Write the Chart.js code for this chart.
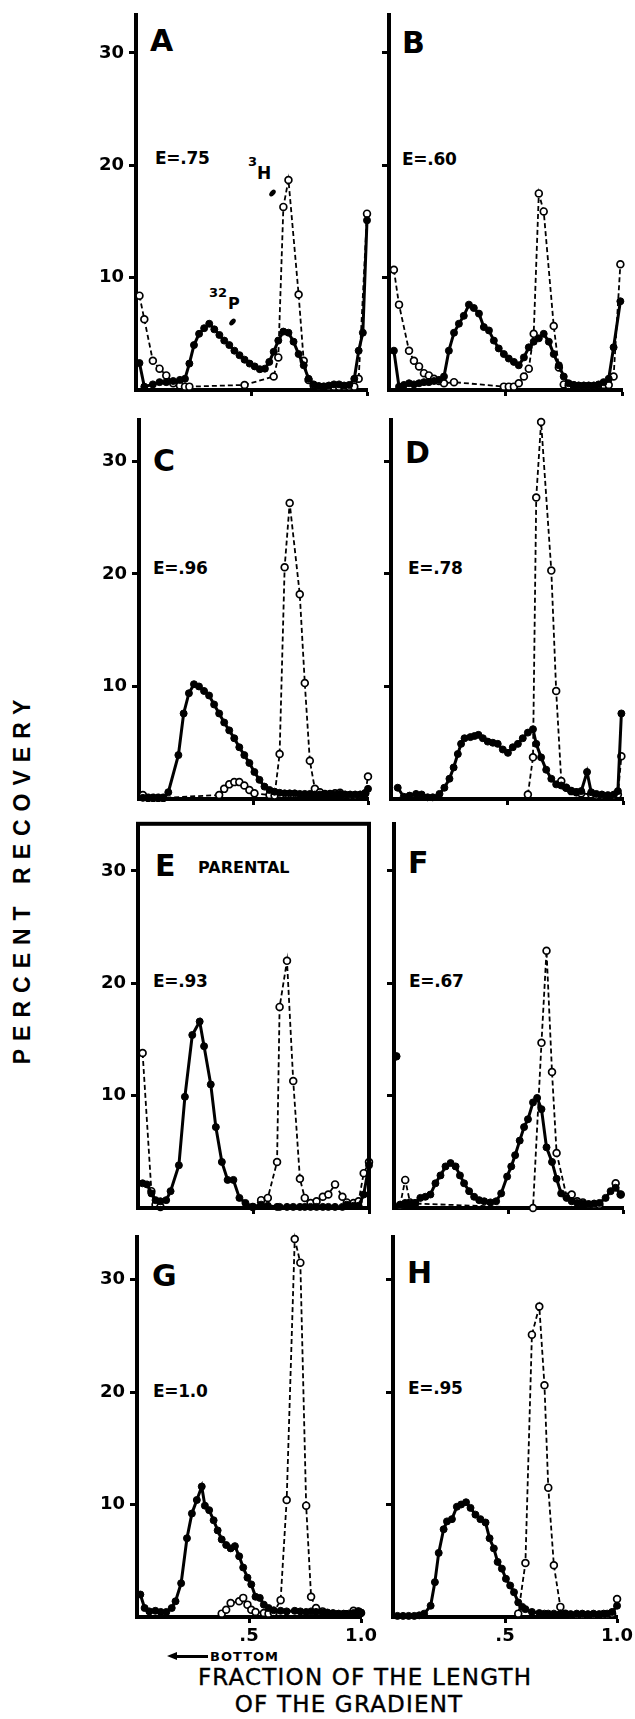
<!DOCTYPE html>
<html>
<head>
<meta charset="utf-8">
<script src="https://cdn.jsdelivr.net/npm/chart.js@4.4.1/dist/chart.umd.min.js"></script>
<style>
  html, body { margin: 0; padding: 0; background: #fff; }
  #fig { position: relative; width: 635px; height: 1719px; overflow: hidden; color: #000;
         font-family: "DejaVu Sans", sans-serif; }
  #fig canvas { position: absolute; }
  .t { position: absolute; white-space: nowrap; line-height: 1; font-weight: bold; }
  .letter { font-size: 30px; }
  .eff { font-size: 17px; letter-spacing: -0.3px; }
  .title { font-family: "DejaVu Sans", sans-serif; font-weight: normal; font-size: 23px; text-align: center; width: 500px; letter-spacing: 1.2px; -webkit-text-stroke: 0.4px #000; }
  .dot { position: absolute; width: 5px; height: 8px; border-radius: 50%; background: #000; }
</style>
</head>
<body>
<div id="fig">
  <div class="t" style="left:22px;top:878px;width:400px;text-align:center;font-family:'Liberation Sans',Arial,sans-serif;font-size:23px;letter-spacing:8px;transform:translate(-50%,-50%) rotate(-90deg);">PERCENT RECOVERY</div>

  <div class="t letter" style="left:150px;top:26px;">A</div>
  <div class="t letter" style="left:402px;top:28px;">B</div>
  <div class="t letter" style="left:153px;top:446px;">C</div>
  <div class="t letter" style="left:405px;top:438px;">D</div>
  <div class="t letter" style="left:155px;top:851px;">E</div>
  <div class="t" style="left:198px;top:860px;font-size:16px;">PARENTAL</div>
  <div class="t letter" style="left:408px;top:848px;">F</div>
  <div class="t letter" style="left:152px;top:1261px;">G</div>
  <div class="t letter" style="left:407px;top:1258px;">H</div>

  <div class="t eff" style="left:155px;top:150px;">E=.75</div>
  <div class="t eff" style="left:402px;top:151px;">E=.60</div>
  <div class="t eff" style="left:153px;top:560px;">E=.96</div>
  <div class="t eff" style="left:408px;top:560px;">E=.78</div>
  <div class="t eff" style="left:153px;top:973px;">E=.93</div>
  <div class="t eff" style="left:409px;top:973px;">E=.67</div>
  <div class="t eff" style="left:153px;top:1383px;">E=1.0</div>
  <div class="t eff" style="left:408px;top:1380px;">E=.95</div>

  <div class="t" style="left:248px;top:155px;font-size:13px;">3</div>
  <div class="t" style="left:257px;top:165px;font-size:17px;">H</div>
  <div class="dot" style="left:270px;top:189px;transform:rotate(40deg);"></div>
  <div class="t" style="left:209px;top:286px;font-size:13px;">32</div>
  <div class="t" style="left:228px;top:296px;font-size:16px;">P</div>
  <div class="dot" style="left:230px;top:318px;transform:rotate(40deg);"></div>

  <div style="position:absolute;left:175px;top:1655px;width:33px;height:3px;background:#000;"></div>
  <div style="position:absolute;left:167px;top:1652px;width:0;height:0;border-top:4.5px solid transparent;border-bottom:4.5px solid transparent;border-right:10px solid #000;"></div>
  <div class="t" style="left:210px;top:1650px;font-size:13px;letter-spacing:1px;">BOTTOM</div>
  <div class="t title" style="left:115px;top:1666px;">FRACTION OF THE LENGTH</div>
  <div class="t title" style="left:99px;top:1693px;">OF THE GRADIENT</div>
</div>

<script>
// fraction positions and % recovery (32P = filled, 3H = open)
const fracA = [.015,.036,.073,.102,.131,.161,.190,.212,.231,.251,.273,.295,.317,.339,.361,.382,.404,.426,.448,.470,.492,.514,.536,.558,.577,.596,.616,.638,.660,.682,.704,.726,.747,.769,.791,.813,.835,.857,.879,.901,.923,.945,.964,.982,1.0];
const p32A = [2.4,.3,.5,.7,.7,.8,.9,1.0,2.35,4.0,5.0,5.5,5.9,5.4,4.9,4.4,4.0,3.5,3.1,2.7,2.35,2.1,1.85,1.9,2.5,3.4,4.4,5.2,5.1,4.3,3.2,2.2,1.0,.5,.35,.3,.4,.5,.5,.4,.45,1.0,3.5,5.1,15.1];
const h3A = [8.4,6.3,2.6,1.9,1.3,.6,.4,.3,.3,null,null,null,null,null,null,null,null,null,null,.45,null,null,null,null,null,1.2,2.9,16.3,18.7,null,8.5,2.6,.9,.4,.3,.3,.3,.3,.3,.3,.3,.3,1.0,null,15.7];

const fracB = [.021,.043,.064,.086,.107,.129,.150,.171,.193,.214,.236,.257,.279,.300,.321,.343,.364,.386,.407,.429,.450,.471,.493,.514,.536,.557,.579,.600,.621,.643,.664,.686,.707,.729,.750,.771,.793,.814,.836,.857,.879,.900,.921,.943,.964,.993];
const p32B = [3.5,.3,.45,.6,.5,.6,.7,.7,.8,.9,1.2,3.5,5.1,5.9,6.6,7.6,7.3,6.8,5.6,5.3,4.4,3.7,3.2,2.8,2.5,2.2,2.9,3.8,4.3,4.6,5.0,4.3,3.2,2.2,1.2,.6,.45,.4,.4,.4,.4,.5,.7,1.0,3.8,7.9];
const h3B = [10.7,7.6,null,3.5,2.6,2.1,1.5,1.3,1.0,.8,.6,null,.7,null,null,null,null,null,null,null,null,null,.3,.3,.3,.6,1.2,1.9,5.0,17.5,15.9,null,5.7,2.0,.5,.4,.4,.35,.35,.35,.35,.4,.45,.45,1.2,11.2];

const fracC = [.017,.04,.062,.084,.106,.128,.15,.172,.195,.218,.24,.262,.284,.306,.328,.35,.372,.394,.416,.438,.46,.482,.504,.526,.548,.57,.592,.614,.636,.658,.68,.702,.724,.746,.768,.79,.812,.834,.856,.878,.90,.922,.944,.966,.988,1.0];
const p32C = [.1,.1,.1,.1,.1,.6,null,3.9,7.6,9.4,10.2,10.0,9.6,9.2,8.4,7.6,6.8,6.1,5.4,4.6,3.9,3.2,2.4,1.7,1.1,.8,.65,.55,.5,.5,.5,.45,.45,.45,.4,.4,.4,.4,.4,.45,.4,.4,.4,.4,.5,.9];
const h3C = [.35,.1,.1,.1,.1,null,null,null,null,null,null,null,null,null,null,.35,.9,1.3,1.5,1.5,1.2,.8,.5,null,null,.35,.3,4.0,20.6,26.3,null,18.2,10.3,3.4,.9,.6,.45,.45,.5,.55,.35,.3,.3,.35,.5,2.0];

const fracD = [.029,.055,.08,.108,.132,.158,.18,.209,.23,.252,.27,.288,.302,.317,.342,.36,.377,.396,.417,.439,.46,.482,.504,.525,.547,.568,.59,.612,.626,.647,.669,.691,.712,.734,.755,.777,.799,.82,.845,.863,.885,.909,.935,.961,.978,.993];
const p32D = [1.0,.2,.3,.45,.4,.15,.15,.45,1.0,1.8,2.8,4.0,4.9,5.4,5.5,5.6,5.7,5.4,5.1,5.0,4.9,4.4,4.1,4.6,4.9,5.4,5.9,6.2,4.9,3.7,2.6,1.8,1.3,1.2,1.0,.7,.6,.7,2.4,.6,.45,.4,.3,.4,.7,7.6];
const h3D = [null,null,null,null,null,null,null,null,null,null,null,null,null,null,null,null,null,null,null,null,null,null,null,null,null,null,.4,3.7,26.8,33.5,null,20.3,9.6,1.6,1.0,.7,.6,.5,null,.4,.3,.3,.3,.3,.4,3.8];

const fracE = [.02,.039,.058,.076,.097,.122,.141,.177,.203,.235,.267,.286,.315,.337,.363,.388,.413,.439,.465,.497,.533,.562,.602,.613,.645,.672,.701,.722,.747,.773,.80,.824,.853,.885,.904,.933,.955,.977,1.0];
const p32E = [2.2,2.1,1.3,.7,.6,.7,1.5,3.8,9.9,15.4,16.6,14.4,11.0,7.2,4.1,2.5,2.5,.9,.45,.1,.3,.2,.1,.1,.1,.1,.1,.1,.1,.1,.1,.1,.1,.1,.3,.2,.2,1.2,3.8];
const h3E = [13.8,null,1.5,.3,.1,null,null,null,null,null,null,null,null,null,null,null,null,null,null,.1,.7,.9,4.1,17.9,22.0,11.3,2.6,.9,.45,.6,1.0,1.2,2.1,1.0,.5,.45,.6,3.1,4.1];

const fracF = [.026,.049,.07,.092,.115,.137,.159,.181,.203,.225,.247,.269,.288,.306,.328,.35,.372,.394,.421,.446,.468,.494,.512,.529,.549,.568,.585,.607,.625,.644,.666,.69,.71,.73,.754,.776,.80,.825,.85,.874,.897,.924,.946,.968,.99];
const p32F = [.3,.45,.4,.45,.9,1.0,1.2,2.2,2.9,3.7,4.0,3.7,2.9,2.2,1.5,1.0,.7,.6,.5,.6,1.3,2.8,3.7,4.7,6.0,7.2,7.9,9.4,9.8,8.8,5.4,4.1,2.6,1.3,.9,.6,.45,.4,.35,.4,.45,.9,1.5,1.8,1.2];
const h3F = [.2,2.5,.5,.4,null,null,null,null,null,null,null,null,null,null,null,null,null,null,null,null,null,null,null,null,null,null,null,0,null,14.7,22.9,12.1,4.9,null,1.0,1.2,.6,.5,.3,.3,.3,null,null,2.2,1.2];
// first 32P fraction of F stands alone on the axis
const fracFLone = [.01];
const p32FLone = [13.5];

const fracG = [.015,.034,.055,.082,.106,.131,.155,.172,.197,.223,.245,.267,.289,.303,.322,.342,.36,.378,.398,.418,.437,.456,.474,.493,.51,.529,.548,.566,.587,.61,.641,.668,.704,.729,.755,.777,.799,.828,.85,.875,.90,.922,.945,.966,.988,1.0];
const p32G = [2.0,.8,.5,.55,.45,.45,.8,1.4,3.0,7.0,9.2,10.4,11.6,9.9,9.5,8.6,7.7,6.9,6.4,6.1,6.3,5.4,4.4,3.5,2.9,1.8,1.7,1.1,.8,.6,.55,.5,.55,.5,.45,.5,.45,.4,.4,.35,.3,.3,.3,.35,.5,.4];
const h3G = [null,null,null,null,null,null,null,null,null,null,null,null,null,null,null,null,null,.3,.65,1.25,null,1.4,1.7,1.1,.65,.45,null,.35,.3,.4,1.5,10.4,33.6,31.5,9.9,1.8,.8,.5,null,null,null,null,null,.55,.5,.35];

const fracH = [.02,.045,.07,.095,.117,.139,.168,.187,.204,.226,.241,.263,.285,.304,.326,.346,.368,.39,.413,.431,.45,.467,.486,.504,.523,.54,.559,.577,.591,.62,.653,.676,.693,.718,.747,.769,.793,.82,.845,.87,.895,.92,.94,.956,.978,1.0];
const p32H = [.1,.1,.1,.1,.15,.3,1.0,3.1,5.7,7.8,8.5,8.7,9.8,10.0,10.2,9.7,9.1,8.7,8.4,7.0,6.1,4.9,4.3,3.4,2.8,2.2,1.3,.9,.7,.45,.35,.3,.3,.3,.3,.25,.25,.3,.3,.25,.3,.25,.3,.3,.45,1.0];
const h3H = [null,null,null,null,null,null,null,null,null,null,null,null,null,null,null,null,null,null,null,null,null,null,null,null,null,null,.3,null,4.8,25.1,27.6,20.6,11.5,4.6,.9,.3,.2,.2,.2,.2,.2,.2,.2,.2,.3,1.6];

const yTickVals = [10, 20, 30];
const xTickVals = [0.5, 1];

// page layout (pixels)
const PX = 11.3;                  // pixels per 1 % recovery
const baseY = [390, 799, 1208, 1617];
const yMax = [33.4, 33.7, 34.2, 33.8];
const AXW = 50, AXH = 34, PADT = 14, PADR = 14;

const panels = [
  { frac: fracA, p32: p32A, h3: h3A, row: 0, col: 0, left: 136, right: 367 },
  { frac: fracB, p32: p32B, h3: h3B, row: 0, col: 1, left: 389, right: 622 },
  { frac: fracC, p32: p32C, h3: h3C, row: 1, col: 0, left: 139, right: 368 },
  { frac: fracD, p32: p32D, h3: h3D, row: 1, col: 1, left: 391, right: 623 },
  { frac: fracE, p32: p32E, h3: h3E, row: 2, col: 0, left: 138, right: 369, box: true },
  { frac: fracF, p32: p32F, h3: h3F, row: 2, col: 1, left: 394, right: 623, lone: [fracFLone, p32FLone] },
  { frac: fracG, p32: p32G, h3: h3G, row: 3, col: 0, left: 137, right: 366 },
  { frac: fracH, p32: p32H, h3: h3H, row: 3, col: 1, left: 393, right: 622 },
];

function pts(frac, vals) {
  return frac.map((x, i) => ({ x: x, y: vals[i] }));
}

const boxPlugin = {
  id: 'box',
  afterDraw(chart, args, opts) {
    if (!opts.on) return;
    const a = chart.chartArea;
    const ctx = chart.ctx;
    ctx.save();
    ctx.lineWidth = 4;
    ctx.strokeStyle = '#000';
    ctx.strokeRect(a.left, a.top, a.right - a.left, a.bottom - a.top);
    ctx.restore();
  }
};

const fig = document.getElementById('fig');
const tickFont = { family: 'DejaVu Sans', weight: 'bold', size: 18 };

panels.forEach((p) => {
  const top = Math.round(baseY[p.row] - yMax[p.row] * PX);
  const plotH = baseY[p.row] - top;
  const plotW = p.right - p.left;
  const cv = document.createElement('canvas');
  cv.width = AXW + plotW + PADR;
  cv.height = PADT + plotH + AXH;
  cv.style.left = (p.left - AXW) + 'px';
  cv.style.top = (top - PADT) + 'px';
  fig.appendChild(cv);

  const datasets = [
    {
      label: '32P',
      data: pts(p.frac, p.p32),
      borderColor: '#000',
      borderWidth: 3,
      pointRadius: 3.5,
      pointBackgroundColor: '#000',
      pointBorderColor: '#000',
      pointBorderWidth: 1,
      spanGaps: true,
      clip: false,
    },
    {
      label: '3H',
      data: pts(p.frac, p.h3),
      borderColor: '#000',
      borderWidth: 1.8,
      borderDash: [5, 3],
      pointRadius: 3.4,
      pointBackgroundColor: '#fff',
      pointBorderColor: '#000',
      pointBorderWidth: 1.7,
      spanGaps: true,
      clip: false,
    },
  ];
  if (p.lone) {
    datasets.push({
      label: '32P',
      data: pts(p.lone[0], p.lone[1]),
      showLine: false,
      pointRadius: 3.8,
      pointBackgroundColor: '#000',
      pointBorderColor: '#000',
      clip: false,
    });
  }

  new Chart(cv.getContext('2d'), {
    type: 'line',
    data: { datasets: datasets },
    options: {
      responsive: false,
      animation: false,
      events: [],
      layout: { padding: { top: PADT, right: PADR, left: 0, bottom: 0 } },
      plugins: { legend: { display: false }, tooltip: { enabled: false }, box: { on: !!p.box } },
      scales: {
        x: {
          type: 'linear',
          min: 0,
          max: 1,
          afterFit(s) { s.height = AXH; },
          afterBuildTicks(s) { s.ticks = xTickVals.map((v) => ({ value: v })); },
          grid: { drawOnChartArea: false, drawTicks: true, tickLength: 6, tickWidth: 3, tickColor: '#000' },
          border: { display: true, color: '#000', width: 4 },
          ticks: {
            color: '#000',
            padding: 3,
            maxRotation: 0,
            autoSkip: false,
            font: tickFont,
            callback: (v) => (p.row === 3 ? (v === 1 ? '1.0' : '.5') : ''),
          },
        },
        y: {
          type: 'linear',
          min: 0,
          max: yMax[p.row],
          afterFit(s) { s.width = AXW; },
          afterBuildTicks(s) { s.ticks = yTickVals.map((v) => ({ value: v })); },
          grid: { drawOnChartArea: false, drawTicks: true, tickLength: 7, tickWidth: 3, tickColor: '#000' },
          border: { display: true, color: '#000', width: 4 },
          ticks: {
            color: '#000',
            padding: 5,
            autoSkip: false,
            font: tickFont,
            callback: (v) => (p.col === 0 ? String(v) : ''),
          },
        },
      },
    },
    plugins: [boxPlugin],
  });
});
</script>
</body>
</html>
